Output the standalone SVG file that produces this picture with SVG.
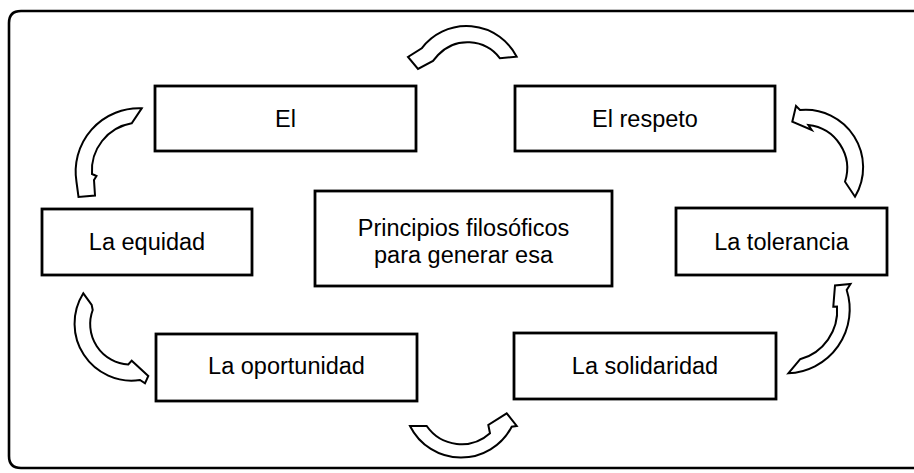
<svg xmlns="http://www.w3.org/2000/svg" width="914" height="473" viewBox="0 0 914 473">
<style>
.box{fill:#fff;stroke:#000;stroke-width:2.8}
.lbl{font-family:"Liberation Sans",Arial,Helvetica,sans-serif;font-size:23.5px;fill:#000;text-anchor:middle}
.arr{fill:#fff;stroke:#000;stroke-width:2;stroke-linejoin:miter}
.frame{fill:none;stroke:#000;stroke-width:2.6}
</style>
<rect x="0" y="0" width="914" height="473" fill="#fff"/>
<path class="frame" d="M930,11 L21,11 Q9,11 9,23 L9,456 Q9,468 21,468 L930,468"/>
<g id="connectors">
<path class="arr" d="M516.7,56.7 A56.3,56.3 0 0 0 421.7,48.3 L408,57 L418,69 L433,61 L438,55 A40.6,40.6 0 0 1 500,58.3 Z"/>
<path class="arr" d="M141.7,108.3 A63.4,63.4 0 0 0 76.5,182 L78.5,197 L95,195.5 L94,180 L96.5,176 L92,174 A48,48 0 0 1 131.7,123.3 Z"/>
<path class="arr" d="M83.3,293.3 A57,57 0 0 0 140,380 L145,383.3 L148.3,376 L131.7,360.7 L128.3,364.5 A40.5,40.5 0 0 1 92.7,310 L91.7,305 Z"/>
<path class="arr" d="M410,426 A57,57 0 0 0 511.7,426.7 L516.7,426 L506.7,413.3 L488.3,425 L490,433.3 A42.5,42.5 0 0 1 426.7,426 Z"/>
<path class="arr" d="M788.3,373.3 A64,64 0 0 0 846.7,290 L850.5,284 L835,285.5 L833.3,306.7 L837,306.5 A50.5,50.5 0 0 1 800,359.3 Z"/>
<path class="arr" d="M855,196.7 A57.5,57.5 0 0 0 800,110 L796,106 L792.3,121.7 L811.7,130 L808.3,125 A43.5,43.5 0 0 1 845,181.7 Z"/>
</g>
<g id="node-el">
<rect class="box" x="155" y="86" width="261" height="65"/>
<text class="lbl" x="285.5" y="126.5">El</text>
</g>
<g id="node-respeto">
<rect class="box" x="515" y="86" width="260" height="65"/>
<text class="lbl" x="645" y="126.5">El respeto</text>
</g>
<g id="node-equidad">
<rect class="box" x="42" y="209" width="210" height="66"/>
<text class="lbl" x="147" y="250">La equidad</text>
</g>
<g id="node-central">
<rect class="box" x="315" y="191" width="297" height="95"/>
<text class="lbl" x="463.5" y="236">Principios filosóficos</text>
<text class="lbl" x="463.5" y="263">para generar esa</text>
</g>
<g id="node-tolerancia">
<rect class="box" x="676" y="208" width="211" height="67"/>
<text class="lbl" x="781.5" y="249.5">La tolerancia</text>
</g>
<g id="node-oportunidad">
<rect class="box" x="156" y="334" width="261" height="67"/>
<text class="lbl" x="286.5" y="374">La oportunidad</text>
</g>
<g id="node-solidaridad">
<rect class="box" x="514" y="333" width="262" height="66"/>
<text class="lbl" x="645" y="374">La solidaridad</text>
</g>
</svg>
